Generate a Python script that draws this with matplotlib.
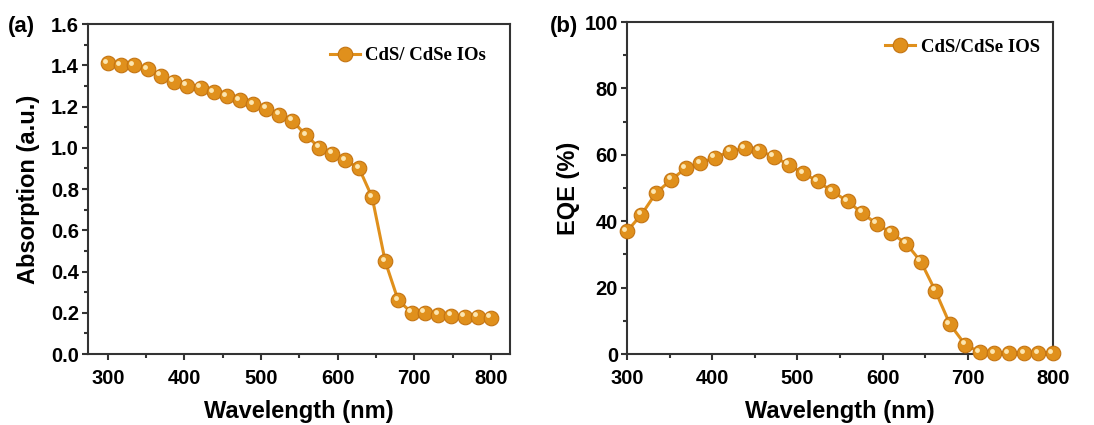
import matplotlib
matplotlib.use("Agg")
import matplotlib.pyplot as plt
import matplotlib.transforms as mtransforms
from matplotlib.ticker import MultipleLocator

# wavelength grid, 30 points between 300 and 800 nm
wavelength = [300, 317, 334, 352, 369, 386, 403, 421, 438, 455,
              472, 490, 507, 524, 541, 559, 576, 593, 610, 628,
              645, 662, 679, 697, 714, 731, 748, 766, 783, 800]

absorption = [1.41, 1.40, 1.40, 1.38, 1.35, 1.32, 1.30, 1.29, 1.27, 1.25,
              1.23, 1.21, 1.19, 1.16, 1.13, 1.06, 1.00, 0.97, 0.94, 0.90,
              0.76, 0.45, 0.26, 0.20, 0.20, 0.19, 0.185, 0.18, 0.18, 0.175]

eqe = [37.0, 42.0, 48.5, 52.5, 56.0, 57.5, 59.2, 61.0, 62.0, 61.3,
       59.5, 57.0, 54.5, 52.0, 49.0, 46.0, 42.5, 39.2, 36.5, 33.2,
       27.8, 19.0, 9.0, 2.8, 0.6, 0.3, 0.2, 0.2, 0.2, 0.2]

ORANGE = "#E0901C"
EDGE = "#C47412"
SHINE = "#FCE6B0"

tick_font = {"family": "Liberation Sans", "weight": "bold", "size": 14.5}
label_font = {"family": "Liberation Sans", "weight": "bold", "size": 17}
legend_font = {"family": "Liberation Serif", "weight": "bold", "size": 13.5}
panel_font = {"family": "Liberation Sans", "weight": "bold", "size": 16}

fig = plt.figure(figsize=(10.94, 4.25), dpi=100)
ax1 = fig.add_axes([0.0804, 0.167, 0.3858, 0.7765])
ax2 = fig.add_axes([0.5731, 0.167, 0.3894, 0.781])


def sphere_plot(ax, x, y, label):
    ax.plot(x, y, "-o", color=ORANGE, lw=2.2, ms=10.5, mfc=ORANGE,
            mec=EDGE, mew=0.8, label=label, clip_on=False, zorder=3)
    # small glossy highlight on each ball
    shift = mtransforms.ScaledTranslation(-1.8 / 72, 1.8 / 72, fig.dpi_scale_trans)
    ax.plot(x, y, "o", ls="none", ms=3.5, color=SHINE, mew=0,
            transform=ax.transData + shift, clip_on=False, zorder=4)


def style_axes(ax):
    for sp in ax.spines.values():
        sp.set_linewidth(1.5)
        sp.set_color("#333333")
    ax.tick_params(which="both", direction="out", top=False, right=False,
                   width=1.5, color="#333333")
    ax.tick_params(which="major", length=4.5)
    ax.tick_params(which="minor", length=3)
    ax.tick_params(axis="x", pad=6)
    ax.tick_params(axis="y", pad=2)
    for lab in ax.get_xticklabels() + ax.get_yticklabels():
        lab.set_fontproperties(tick_font)
    ax.set_xlabel("Wavelength (nm)", fontdict=label_font, labelpad=9)


# (a) absorption spectrum
sphere_plot(ax1, wavelength, absorption, "CdS/ CdSe IOs")
ax1.set_xlim(274, 825)
ax1.set_ylim(0, 1.6)
ax1.xaxis.set_major_locator(MultipleLocator(100))
ax1.xaxis.set_minor_locator(MultipleLocator(50))
ax1.yaxis.set_major_locator(MultipleLocator(0.2))
ax1.yaxis.set_minor_locator(MultipleLocator(0.1))
ax1.yaxis.set_major_formatter(plt.FormatStrFormatter("%.1f"))
style_axes(ax1)
ax1.set_ylabel("Absorption (a.u.)", fontdict=label_font, labelpad=8)
ax1.legend(loc="upper right", bbox_to_anchor=(0.975, 0.97), frameon=False,
           prop=legend_font, handlelength=1.6, handletextpad=0.3,
           borderaxespad=0.3)

# (b) external quantum efficiency
sphere_plot(ax2, wavelength, eqe, "CdS/CdSe IOS")
ax2.set_xlim(300, 800)
ax2.set_ylim(0, 100)
ax2.xaxis.set_major_locator(MultipleLocator(100))
ax2.xaxis.set_minor_locator(MultipleLocator(50))
ax2.yaxis.set_major_locator(MultipleLocator(20))
ax2.yaxis.set_minor_locator(MultipleLocator(10))
style_axes(ax2)
ax2.set_ylabel("EQE (%)", fontdict=label_font, labelpad=3)
ax2.legend(loc="upper right", bbox_to_anchor=(1.0, 0.99), frameon=False,
           prop=legend_font, handlelength=1.6, handletextpad=0.3,
           borderaxespad=0.3)

fig.text(0.007, 0.925, "(a)", fontdict=panel_font)
fig.text(0.503, 0.925, "(b)", fontdict=panel_font)

fig.savefig("out.png", dpi=100)
